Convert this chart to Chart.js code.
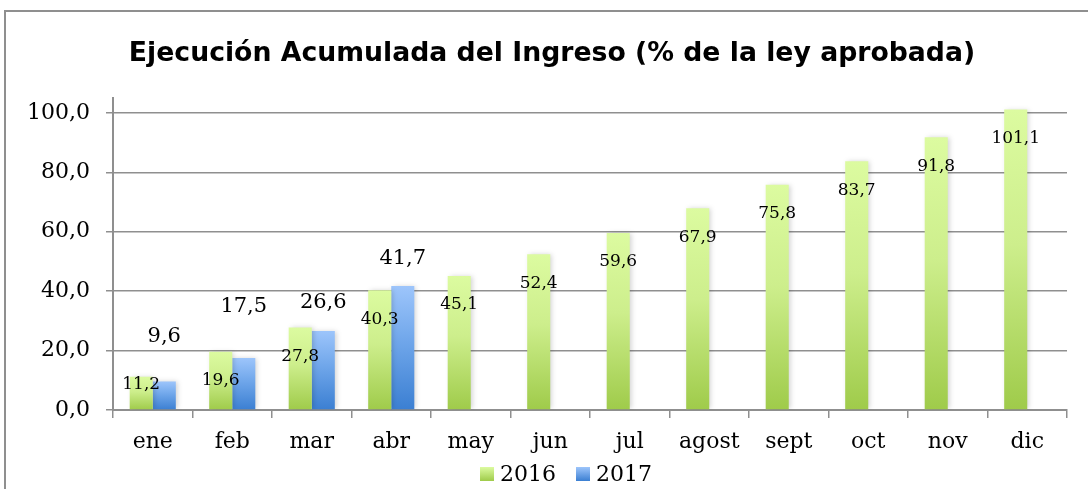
<!DOCTYPE html>
<html lang="es">
<head>
<meta charset="utf-8">
<title>Ejecución Acumulada del Ingreso</title>
<script src="https://cdn.jsdelivr.net/npm/chart.js@4/dist/chart.umd.min.js"></script>
<style>
  html, body { margin: 0; padding: 0; background: #fff; }
  #wrap { width: 1088px; height: 489px; }
</style>
</head>
<body>
<div id="wrap"><canvas id="chart"></canvas></div>
<script>
// data
const months = ["ene", "feb", "mar", "abr", "may", "jun", "jul", "agost", "sept", "oct", "nov", "dic"];
const values2016 = [11.2, 19.6, 27.8, 40.3, 45.1, 52.4, 59.6, 67.9, 75.8, 83.7, 91.8, 101.1];
const values2017 = [9.6, 17.5, 26.6, 41.7, null, null, null, null, null, null, null, null];
const seriesNames = ["2016", "2017"];
const yTicks = [0, 20, 40, 60, 80, 100];
const chartTitle = "Ejecución Acumulada del Ingreso (% de la ley aprobada)";

// extra lift (px) the original gave some 2017 labels to keep them clear
const lift2017 = [17, 23, 0, 0];

const serif = "'DejaVu Serif', serif";
const fmt = (v) => v.toFixed(1).replace(".", ",");

const palette = {
  green: ["#dcfba0", "#cdee8c", "#9fcb4a"],
  blue: ["#9dc5fb", "#6fa6ea", "#3b7fd2"],
};

// each bar gets its own light-to-dark gradient, top to bottom
const barGradient = (stops) => (ctx) => {
  const chart = ctx.chart;
  const area = chart.chartArea;
  if (!area || ctx.type !== "data" || ctx.raw == null) return stops[1];
  const y = chart.scales.y;
  const top = y.getPixelForValue(ctx.raw);
  const base = y.getPixelForValue(0);
  const g = chart.ctx.createLinearGradient(0, top, 0, base);
  g.addColorStop(0, stops[0]);
  g.addColorStop(0.45, stops[1]);
  g.addColorStop(1, stops[2]);
  return g;
};

// outer frame + title (title is centred on the whole frame, not the plot)
const frame = {
  id: "frame",
  beforeDraw(chart) {
    const c = chart.ctx;
    c.save();
    c.strokeStyle = "#8f8f8f";
    c.lineWidth = 2;
    c.strokeRect(5, 11, 1200, 600);
    c.fillStyle = "#000";
    c.font = "bold 26.7px 'DejaVu Sans', Verdana, sans-serif";
    c.textAlign = "center";
    c.textBaseline = "middle";
    c.fillText(chartTitle, 552, 54);
    c.restore();
  },
};

const barShadow = {
  id: "barShadow",
  beforeDatasetsDraw(chart) {
    const c = chart.ctx;
    c.save();
    c.shadowColor = "rgba(0,0,0,0.18)";
    c.shadowBlur = 5;
    c.shadowOffsetX = 2;
  },
  afterDatasetsDraw(chart) {
    chart.ctx.restore();
  },
};

const valueLabels = {
  id: "valueLabels",
  afterDatasetsDraw(chart) {
    const c = chart.ctx;
    const base = chart.scales.y.getPixelForValue(0);
    c.save();
    c.fillStyle = "#000";
    c.textAlign = "center";
    c.textBaseline = "middle";

    chart.getDatasetMeta(0).data.forEach((bar, i) => {
      c.font = "17px " + serif;
      const y = Math.min(bar.y + 29, base - 25);
      c.fillText(fmt(values2016[i]), bar.x, y);
    });

    chart.getDatasetMeta(1).data.forEach((bar, i) => {
      if (values2017[i] == null) return;
      c.font = "21px " + serif;
      c.fillText(fmt(values2017[i]), bar.x, bar.y - 28 - (lift2017[i] || 0));
    });
    c.restore();
  },
};

const legendBoxes = {
  id: "legendBoxes",
  afterDraw(chart) {
    const c = chart.ctx;
    c.save();
    c.font = "22px " + serif;
    c.textBaseline = "middle";
    const box = 14, gap = 6, between = 20;
    const items = [palette.green, palette.blue].map((stops, i) => ({
      stops,
      text: seriesNames[i],
      w: box + gap + c.measureText(seriesNames[i]).width,
    }));
    const total = items.reduce((s, it) => s + it.w, 0) + between;
    let x = 566 - total / 2;
    const cy = 474;
    items.forEach((it) => {
      const g = c.createLinearGradient(0, cy - box / 2, 0, cy + box / 2);
      g.addColorStop(0, it.stops[0]);
      g.addColorStop(1, it.stops[2]);
      c.fillStyle = g;
      c.fillRect(x, cy - box / 2, box, box);
      c.fillStyle = "#000";
      c.fillText(it.text, x + box + gap, cy + 1);
      x += it.w + between;
    });
    c.restore();
  },
};

new Chart(document.getElementById("chart"), {
  type: "bar",
  data: {
    labels: months,
    datasets: [
      { label: seriesNames[0], data: values2016, backgroundColor: barGradient(palette.green) },
      { label: seriesNames[1], data: values2017, backgroundColor: barGradient(palette.blue) },
    ],
  },
  options: {
    responsive: true,
    maintainAspectRatio: false,
    animation: false,
    devicePixelRatio: 1,
    layout: { padding: { left: 0, right: 21, top: 98, bottom: 29 } },
    datasets: {
      bar: { categoryPercentage: 0.58, barPercentage: 1, borderWidth: 0 },
    },
    scales: {
      x: {
        grid: {
          offset: true,
          drawOnChartArea: false,
          color: "#8f8f8f",
          lineWidth: 1.5,
          tickLength: 8,
        },
        border: { color: "#8f8f8f", width: 2 },
        ticks: { color: "#000", font: { family: serif, size: 22 }, padding: 11 },
        afterFit(scale) { scale.height = 50; },
      },
      y: {
        min: 0,
        max: 105,
        afterBuildTicks(scale) { scale.ticks = yTicks.map((v) => ({ value: v })); },
        grid: { color: "#8f8f8f", lineWidth: 1.5, tickLength: 7 },
        border: { color: "#8f8f8f", width: 2 },
        ticks: {
          color: "#000",
          font: { family: serif, size: 22 },
          padding: 16,
          callback: (v) => fmt(v),
        },
        afterFit(scale) { scale.width = 113; },
      },
    },
    plugins: {
      legend: { display: false },
      tooltip: { enabled: false },
      title: { display: false },
    },
  },
  plugins: [frame, barShadow, valueLabels, legendBoxes],
});
</script>
</body>
</html>
